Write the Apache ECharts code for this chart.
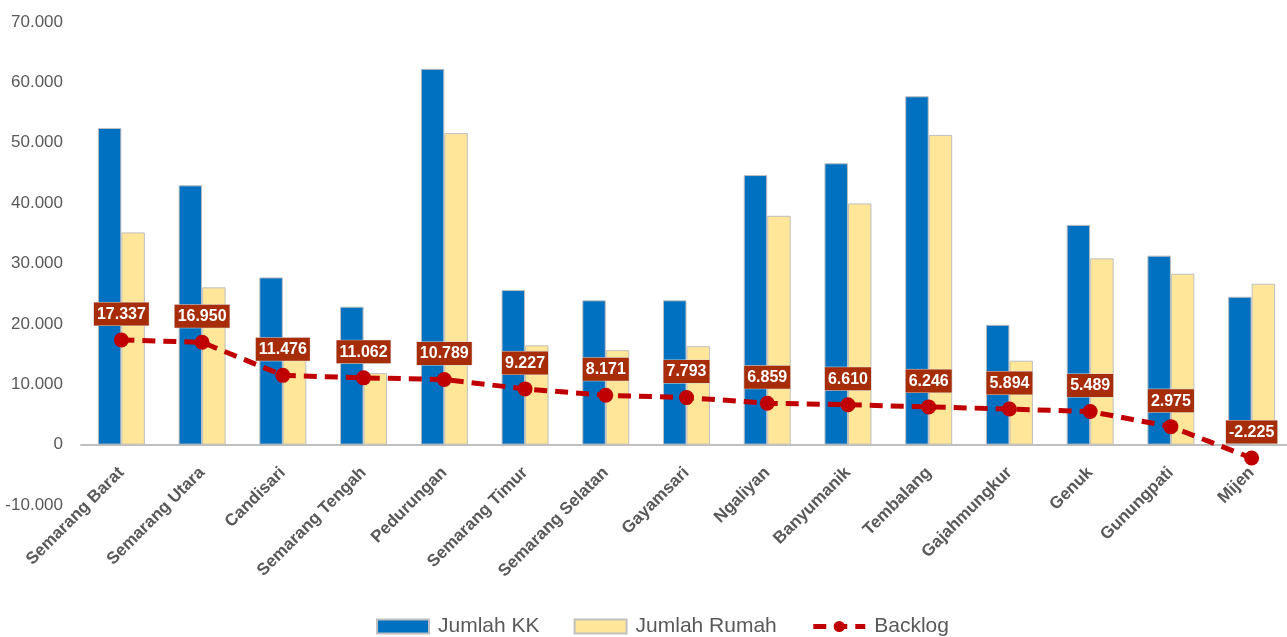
<!DOCTYPE html>
<html>
<head>
<meta charset="utf-8">
<title>Backlog Kecamatan</title>
<script src="https://cdn.jsdelivr.net/npm/echarts@6/dist/echarts.min.js"></script>
<style>
	html,body{margin:0;padding:0;background:#fff;}
	#main{width:1287px;height:637px;}
</style>
</head>
<body>
<div id="main"></div>
<script>
var kecamatan = ['Semarang Barat','Semarang Utara','Candisari','Semarang Tengah','Pedurungan','Semarang Timur','Semarang Selatan','Gayamsari','Ngaliyan','Banyumanik','Tembalang','Gajahmungkur','Genuk','Gunungpati','Mijen'];
var jumlahKK = [52450,42950,27700,22850,62250,25600,23900,23900,44650,46600,57700,19850,36400,31300,24500];
var jumlahRumah = [35150,26050,16250,11850,51600,16450,15650,16300,37900,39950,51300,13900,30850,28300,26650];
var backlog = [17337,16950,11476,11062,10789,9227,8171,7793,6859,6610,6246,5894,5489,2975,-2225];

var abu = '#595959';

//format angka pakai titik ribuan
function formatTitik(v){
	var neg = v < 0;
	var s = String(Math.abs(Math.round(v)));
	s = s.replace(/\B(?=(\d{3})+(?!\d))/g, '.');
	return (neg ? '-' : '') + s;
}

var myChart = echarts.init(document.getElementById('main'));
var option = {
	animation:false,
	textStyle:{fontFamily:'Liberation Sans'},
	grid:{left:81, width:1211, top:22, bottom:132, outerBoundsMode:'none'},
	legend:{
		top:611,
		left:371,
		itemWidth:52,
		itemHeight:14,
		itemGap:34,
		textStyle:{fontSize:21, color:abu, padding:[0,0,0,4]},
		data:[
			{name:'Jumlah KK', icon:'rect'},
			{name:'Jumlah Rumah', icon:'rect'},
			{name:'Backlog', lineStyle:{width:5, type:[13,8]}}
		]
	},
	xAxis:{
		type:'category',
		data:kecamatan,
		axisTick:{show:false},
		axisLine:{onZero:true, lineStyle:{color:'#bfbfbf', width:2}},
		axisLabel:{
			interval:0,
			rotate:45,
			margin:-35,
			fontSize:17,
			fontWeight:'bold',
			color:abu
		}
	},
	yAxis:{
		type:'value',
		min:-10000,
		max:70000,
		interval:10000,
		splitLine:{show:false},
		axisLine:{show:false},
		axisTick:{show:false},
		axisLabel:{
			fontSize:17,
			color:abu,
			margin:18,
			formatter:function(v){ return formatTitik(v); }
		}
	},
	series:[
		{
			name:'Jumlah KK',
			type:'bar',
			data:jumlahKK,
			barWidth:23.5,
			barGap:'0%',
			itemStyle:{color:'#0070c0', borderColor:'#bfbfbf', borderWidth:1}
		},
		{
			name:'Jumlah Rumah',
			type:'bar',
			data:jumlahRumah,
			barWidth:23.5,
			barGap:'0%',
			itemStyle:{color:'#ffe699', borderColor:'#bfbfbf', borderWidth:1}
		},
		{
			name:'Backlog',
			type:'line',
			data:backlog,
			symbol:'circle',
			symbolSize:15,
			z:5,
			lineStyle:{color:'#c00000', width:5, type:[13,8]},
			itemStyle:{color:'#c00000'},
			label:{
				show:true,
				position:'top',
				distance:7,
				color:'#fff',
				fontSize:16,
				fontWeight:'bold',
				backgroundColor:'#a62d08',
				borderColor:'#d9d9d9',
				borderWidth:0.5,
				padding:[4,3,3,3],
				formatter:function(p){ return formatTitik(p.value); }
			}
		}
	]
};
myChart.setOption(option);
</script>
</body>
</html>
